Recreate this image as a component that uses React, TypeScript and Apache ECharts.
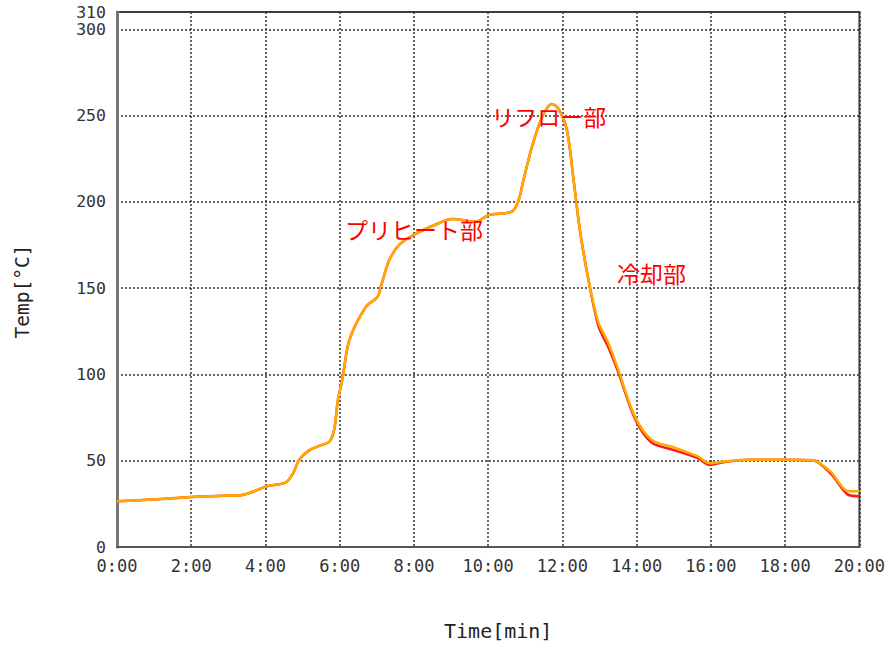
import React, { useEffect, useRef } from "react";
import * as echarts from "echarts";

// Reflow temperature profile, time in minutes
const times = [
  0, 1, 2, 3, 3.33, 3.7, 4.0, 4.55, 4.75, 4.91, 5.18, 5.5, 5.72, 5.85, 5.95,
  6.07, 6.26, 6.7, 7.02, 7.11, 7.33, 7.6, 8.0, 8.67, 9.03, 9.66, 10.01, 10.64,
  10.82, 10.95, 11.18, 11.45, 11.71, 11.89, 12.12, 12.3, 12.47, 12.7, 12.97,
  13.23, 13.5, 13.95, 14.4, 15.03, 15.65, 15.96, 16.37, 17.0, 18.0, 18.74,
  19.23, 19.68, 20,
];

const tempOrange = [
  26.5, 27.5, 29, 29.8, 30, 32.3, 35, 37.5, 43, 50.6, 56, 59, 61, 68, 85,
  97, 120, 139, 145, 151, 166, 175, 181, 187.6, 190, 188.5, 192.4, 194.3,
  201, 212.7, 232, 249, 256.7, 254, 241.6, 212.7, 183.7, 154.8, 130,
  118.5, 103, 75.7, 62.2, 57.5, 52.5, 48.5, 49.5, 50.6, 50.6, 50.3,
  43.5, 32.5, 32.3,
];

const tempRed = [
  26.5, 27.5, 29, 29.8, 30, 32.3, 35, 37.5, 43, 50.6, 56, 59, 61, 68, 85,
  97, 120, 139, 145, 151, 166, 175, 181, 187.6, 190, 188.5, 192.4, 194.3,
  201, 212.7, 232, 249, 256.7, 254, 241.6, 212.7, 183.7, 154.8, 128,
  116, 101.5, 74.5, 60.5, 56, 51.5, 47.5, 49.3, 50.6, 50.6, 50.3,
  42.5, 30.5, 29.4,
];

// Zone annotations: [text, time, temperature]
const zoneLabels: [string, number, number][] = [
  ["プリヒート部", 8.0, 184],
  ["リフロー部", 11.63, 250],
  ["冷却部", 14.4, 159],
];

const yTicksMax = 310;

export default function App() {
  const ref = useRef<HTMLDivElement>(null);

  useEffect(() => {
    document.body.style.margin = "0";
    const chart = echarts.init(ref.current!, undefined, { renderer: "svg" });
    const monoFont = "'DejaVu Sans Mono', monospace";
    const gridLine = { show: true, lineStyle: { color: "#333", width: 1.5, type: [2, 2] as number[] } };

    chart.setOption({
      animation: false,
      backgroundColor: "#fff",
      grid: {
        left: 117,
        right: 26,
        top: 12,
        bottom: 98,
        show: true,
        borderColor: "#444",
        borderWidth: 2,
        backgroundColor: "transparent",
      },
      xAxis: {
        type: "value",
        min: 0,
        max: 20,
        interval: 2,
        name: "Time[min]",
        nameLocation: "middle",
        nameGap: 74,
        nameTextStyle: { color: "#222", fontSize: 20, fontFamily: monoFont, padding: [0, 0, 0, 20] },
        axisLine: { show: true, lineStyle: { color: "#555", width: 2 } },
        axisTick: { show: false },
        axisLabel: {
          color: "#333",
          fontSize: 17,
          fontFamily: monoFont,
          margin: 10,
          formatter: (v: number) => `${v}:00`,
        },
        splitLine: gridLine,
      },
      yAxis: {
        type: "value",
        min: 0,
        max: yTicksMax,
        interval: 50,
        name: "Temp[°C]",
        nameLocation: "middle",
        nameGap: 85,
        nameRotate: 90,
        nameTextStyle: { color: "#222", fontSize: 19.5, fontFamily: monoFont, padding: [0, 0, 0, -24] },
        axisLine: { show: true, lineStyle: { color: "#777", width: 3 } },
        axisTick: { show: false },
        axisLabel: {
          color: "#333",
          fontSize: 16.5,
          lineHeight: 15,
          fontFamily: monoFont,
          margin: 11,
          showMaxLabel: true,
        },
        splitLine: gridLine,
      },
      series: [
        {
          type: "line",
          name: "red",
          data: times.map((t, i) => [t, tempRed[i]]),
          showSymbol: false,
          smooth: 0.3,
          lineStyle: { color: "#ff1a1a", width: 2.5 },
          z: 2,
        },
        {
          type: "line",
          name: "orange",
          data: times.map((t, i) => [t, tempOrange[i]]),
          showSymbol: false,
          smooth: 0.3,
          lineStyle: { color: "#ffaa00", width: 2.5 },
          z: 3,
        },
      ],
    });

    // Place the zone captions in data coordinates
    const texts = zoneLabels.map(([text, t, v]) => {
      const [px, py] = chart.convertToPixel({ gridIndex: 0 }, [t, v]) as number[];
      return {
        type: "text",
        x: px,
        y: py,
        z: 10,
        style: {
          text,
          fill: "#ff0000",
          fontSize: 23,
          fontFamily: "'Noto Sans CJK JP', sans-serif",
          textAlign: "center",
          textVerticalAlign: "middle",
        },
      };
    });
    chart.setOption({ graphic: texts });

    return () => chart.dispose();
  }, []);

  return <div ref={ref} style={{ width: 888, height: 646 }} />;
}
